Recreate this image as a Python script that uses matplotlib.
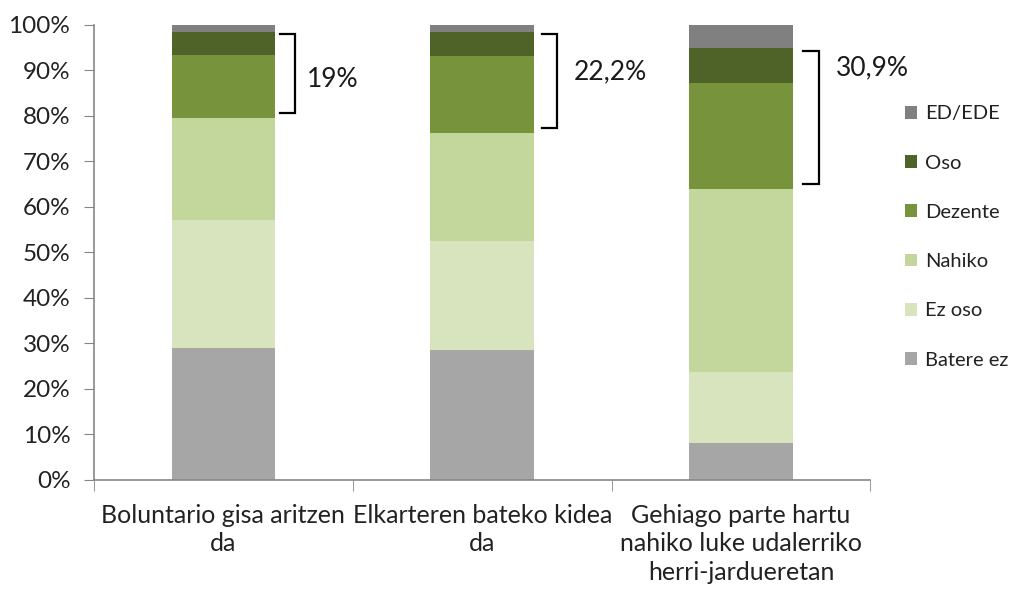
import numpy as np
import matplotlib.pyplot as plt
from matplotlib.patches import Patch

plt.rcParams['font.family'] = ['Lato', 'DejaVu Sans']

categories = ["Boluntario gisa aritzen\nda",
              "Elkarteren bateko kidea\nda",
              "Gehiago parte hartu\nnahiko luke udalerriko\nherri-jardueretan"]

# balio guztiak ehunekotan, behetik gora
batere_ez = [29.0, 28.6, 8.1]
ez_oso = [28.1, 23.9, 15.6]
nahiko = [22.5, 23.8, 40.3]
dezente = [13.8, 16.9, 23.3]
oso = [5.1, 5.3, 7.6]
ed_ede = [1.5, 1.5, 5.1]

bracket_labels = ["19%", "22,2%", "30,9%"]

series = [("Batere ez", batere_ez, "#A6A6A6"),
          ("Ez oso", ez_oso, "#D7E4BD"),
          ("Nahiko", nahiko, "#C3D69B"),
          ("Dezente", dezente, "#77933C"),
          ("Oso", oso, "#4F6228"),
          ("ED/EDE", ed_ede, "#808080")]

fig = plt.figure(figsize=(10.11, 5.91), dpi=100)
ax = fig.add_axes([0.093, 0.188, 0.768, 0.770])

x = np.arange(len(categories))
width = 0.4
bottom = np.zeros(len(categories))
for name, vals, col in series:
    ax.bar(x, vals, width, bottom=bottom, color=col, label=name, linewidth=0)
    bottom += np.array(vals)

# giltzak: Dezente + Oso
text_y = [87.9, 89.7, 90.5]
gap = [0.077, 0.089, 0.1]
for i in range(len(categories)):
    low = batere_ez[i] + ez_oso[i] + nahiko[i] + 1.0
    high = low - 1.0 + dezente[i] + oso[i] - 0.6
    xv = x[i] + width / 2 + gap[i]
    xt = xv - 0.06
    ax.plot([xt, xv, xv, xt], [high, high, low, low], color='black', lw=1.6,
            solid_joinstyle='miter', clip_on=False)
    ax.text(xv + 0.045 + 0.02 * (i > 0), text_y[i], bracket_labels[i], fontsize=19,
            ha='left', va='center', color='#1a1a1a')

ax.set_xlim(-0.5, 2.5)
ax.set_ylim(0, 100)
ax.set_yticks(np.arange(0, 101, 10))
ax.set_yticklabels([f"{v}%" for v in range(0, 101, 10)], fontsize=17.5, color='#222222')
ax.set_xticks(x)
ax.set_xticklabels(categories, fontsize=18, color='#222222', linespacing=1.3)
ax.set_xticks([-0.5, 0.5, 1.5, 2.5], minor=True)
ax.tick_params(axis='x', which='major', length=0, pad=17)
ax.tick_params(axis='x', which='minor', length=8, color='#868686')
ax.tick_params(axis='y', length=7, color='#868686', pad=10)

for s in ['top', 'right']:
    ax.spines[s].set_visible(False)
for s in ['left', 'bottom']:
    ax.spines[s].set_color('#868686')
    ax.spines[s].set_linewidth(1.2)

handles = [Patch(facecolor=col, label=name) for name, vals, col in series][::-1]
fig.legend(handles=handles, loc='center left', bbox_to_anchor=(0.877, 0.599),
           frameon=False, fontsize=14.5, labelspacing=1.6, handlelength=0.6,
           handleheight=0.6, handletextpad=0.4, labelcolor='#222222')

fig.savefig("out.png", dpi=100)
